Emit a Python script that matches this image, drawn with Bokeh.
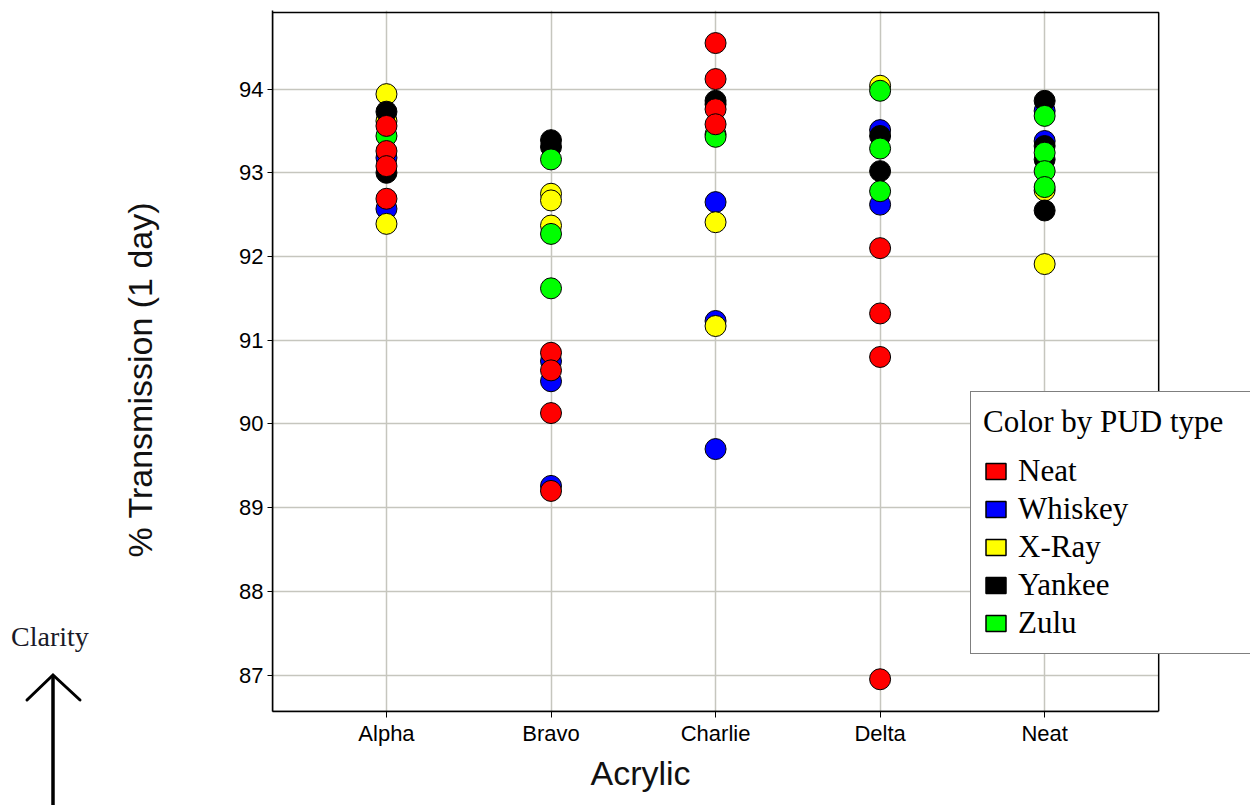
from bokeh.plotting import figure
from bokeh.layouts import row
from bokeh.models import (Range1d, FixedTicker, Legend, LegendItem, BoxAnnotation,
                          Title, Div)
from bokeh.embed import file_html
from bokeh.resources import INLINE

# ---- data -------------------------------------------------------------
acrylics = ["Alpha", "Bravo", "Charlie", "Delta", "Neat"]
y_ticks = [87, 88, 89, 90, 91, 92, 93, 94]

pud_types = ["Neat", "Whiskey", "X-Ray", "Yankee", "Zulu"]
pud_colors = ["#ff0000", "#0000ff", "#ffff00", "#000000", "#00ff00"]

neat_acrylic = ["Alpha", "Alpha", "Alpha", "Alpha",
                "Bravo", "Bravo", "Bravo", "Bravo",
                "Charlie", "Charlie", "Charlie", "Charlie",
                "Delta", "Delta", "Delta", "Delta"]
neat_trans = [93.56, 93.26, 93.08, 92.69,
              90.85, 90.64, 90.13, 89.20,
              94.55, 94.12, 93.76, 93.58,
              92.10, 91.32, 90.80, 86.95]

whiskey_acrylic = ["Alpha", "Alpha", "Bravo", "Bravo", "Bravo",
                   "Charlie", "Charlie", "Charlie", "Delta", "Delta",
                   "Neat", "Neat"]
whiskey_trans = [93.18, 92.57, 90.75, 90.51, 89.26,
                 92.65, 91.23, 89.70, 93.51, 92.62,
                 93.74, 93.38]

xray_acrylic = ["Alpha", "Alpha", "Alpha", "Bravo", "Bravo", "Bravo",
                "Charlie", "Charlie", "Delta", "Neat", "Neat"]
xray_trans = [93.94, 93.62, 92.39, 92.75, 92.67, 92.37,
              92.41, 91.17, 94.04, 92.79, 91.91]

yankee_acrylic = ["Alpha", "Alpha", "Bravo", "Bravo", "Charlie", "Charlie",
                  "Delta", "Delta", "Neat", "Neat", "Neat", "Neat"]
yankee_trans = [93.73, 93.00, 93.39, 93.31, 93.86, 93.82,
                93.44, 93.02, 93.86, 93.32, 93.16, 92.55]

zulu_acrylic = ["Alpha", "Bravo", "Bravo", "Bravo", "Charlie", "Charlie",
                "Delta", "Delta", "Delta", "Neat", "Neat", "Neat", "Neat"]
zulu_trans = [93.44, 93.16, 92.27, 91.62, 93.46, 93.43,
              93.98, 93.29, 92.78, 93.68, 93.24, 93.02, 92.83]

series = {
    "Neat": (neat_acrylic, neat_trans),
    "Whiskey": (whiskey_acrylic, whiskey_trans),
    "X-Ray": (xray_acrylic, xray_trans),
    "Yankee": (yankee_acrylic, yankee_trans),
    "Zulu": (zulu_acrylic, zulu_trans),
}
color_of = dict(zip(pud_types, pud_colors))
draw_order = ["Whiskey", "X-Ray", "Yankee", "Zulu", "Neat"]
position_of = {name: i for i, name in enumerate(acrylics)}

SANS = "Liberation Sans"
SERIF = "Liberation Serif"

# visible plot box (data units); the frame itself runs on to the right edge so
# the legend can hang over the box border
X_LO, X_BOX_HI, X_FRAME_HI = -0.6926, 4.693, 5.251
Y_LO, Y_HI = 86.565, 94.915

# ---- left strip: y title plus the "Clarity" arrow -----------------------
side_html = """
<div style="position:relative;width:170px;height:805px;background:#ffffff;">
  <div style="position:absolute;left:140px;top:380px;transform:translate(-50%,-50%) rotate(-90deg);
              font-family:'Liberation Sans';font-size:34px;line-height:34px;color:#111111;
              white-space:nowrap;">% Transmission (1 day)</div>
  <div style="position:absolute;left:11px;top:623px;font-family:'Liberation Serif';
              font-size:28px;line-height:1;color:#1a1a28;white-space:nowrap;">Clarity</div>
  <svg width="170" height="805" style="position:absolute;left:0;top:0;">
    <line x1="53" y1="676" x2="53" y2="805" stroke="black" stroke-width="3.5"/>
    <polyline points="27,700 53,675 80,700" fill="none" stroke="black"
              stroke-width="3" stroke-linecap="round"/>
  </svg>
</div>
"""
side = Div(text=side_html, width=170, height=805, margin=0)

# ---- main scatter -------------------------------------------------------
p = figure(width=1080, height=805,
           x_range=Range1d(X_LO, X_FRAME_HI),
           y_range=Range1d(Y_LO, Y_HI + 2 / 83.71),
           output_backend="svg", toolbar_location=None,
           min_border_left=102, min_border_right=0, min_border_top=10, min_border_bottom=94)

p.outline_line_color = None
p.background_fill_color = "white"

p.grid.grid_line_color = "#c6c6be"
p.grid.grid_line_width = 1.5
p.xaxis.ticker = FixedTicker(ticks=list(range(len(acrylics))))
p.xaxis.major_label_overrides = {i: name for i, name in enumerate(acrylics)}
p.xaxis.bounds = (X_LO, X_BOX_HI)
p.xaxis.minor_tick_line_color = None
p.yaxis.ticker = FixedTicker(ticks=y_ticks)
p.yaxis.minor_tick_line_color = None
p.xgrid.ticker = FixedTicker(ticks=list(range(len(acrylics))))

for ax in (p.xaxis, p.yaxis):
    ax.axis_line_color = "black"
    ax.axis_line_width = 1.5
    ax.major_tick_line_color = "black"
    ax.major_tick_line_width = 1
    ax.major_tick_in = 0
    ax.major_label_text_font = SANS
    ax.major_label_text_font_size = "22px"
    ax.major_label_text_color = "black"

p.xaxis.major_tick_out = 6
p.xaxis.major_label_standoff = 3
p.yaxis.major_tick_out = 5
p.yaxis.major_label_standoff = 4

# white cover for the frame strip right of the box, then the box border
p.add_layout(BoxAnnotation(left=X_BOX_HI, fill_color="white", fill_alpha=1.0,
                           line_alpha=0, level="underlay"))
p.add_layout(BoxAnnotation(left=X_LO, right=X_BOX_HI, bottom=Y_LO, top=Y_HI,
                           fill_alpha=0, line_color="black", line_alpha=1.0,
                           line_width=1.5, level="underlay"))

for name in draw_order:
    xs, ys = series[name]
    p.scatter(x=[position_of[a] for a in xs], y=ys, size=21,
              fill_color=color_of[name], line_color="black", line_width=1)

# legend swatches
nan = float("nan")
items = []
for name in pud_types:
    r = p.quad(left=[nan], right=[nan], top=[nan], bottom=[nan],
               fill_color=color_of[name], line_color="black", line_width=1.5)
    items.append(LegendItem(label=name, renderers=[r]))

legend = Legend(items=items, location=(698, 57), title="Color by PUD type",
                title_text_font=SERIF, title_text_font_size="31px",
                title_text_font_style="normal", title_text_color="black",
                title_standoff=13,
                label_text_font=SERIF, label_text_font_size="31px",
                label_text_color="black",
                glyph_width=25, glyph_height=20, label_standoff=10,
                label_width=230, spacing=2, padding=12, margin=0,
                border_line_color="black", border_line_width=1.5,
                background_fill_color="white", background_fill_alpha=1.0)
p.add_layout(legend)

# x axis title, placed off-centre under the box
p.add_layout(Title(text="Acrylic", align="left", offset=318,
                   text_font=SANS, text_font_size="34px", text_font_style="normal",
                   text_color="#111111", standoff=6), "below")

layout = row(side, p, spacing=0)
open("out.html", "w").write(file_html(layout, INLINE))
